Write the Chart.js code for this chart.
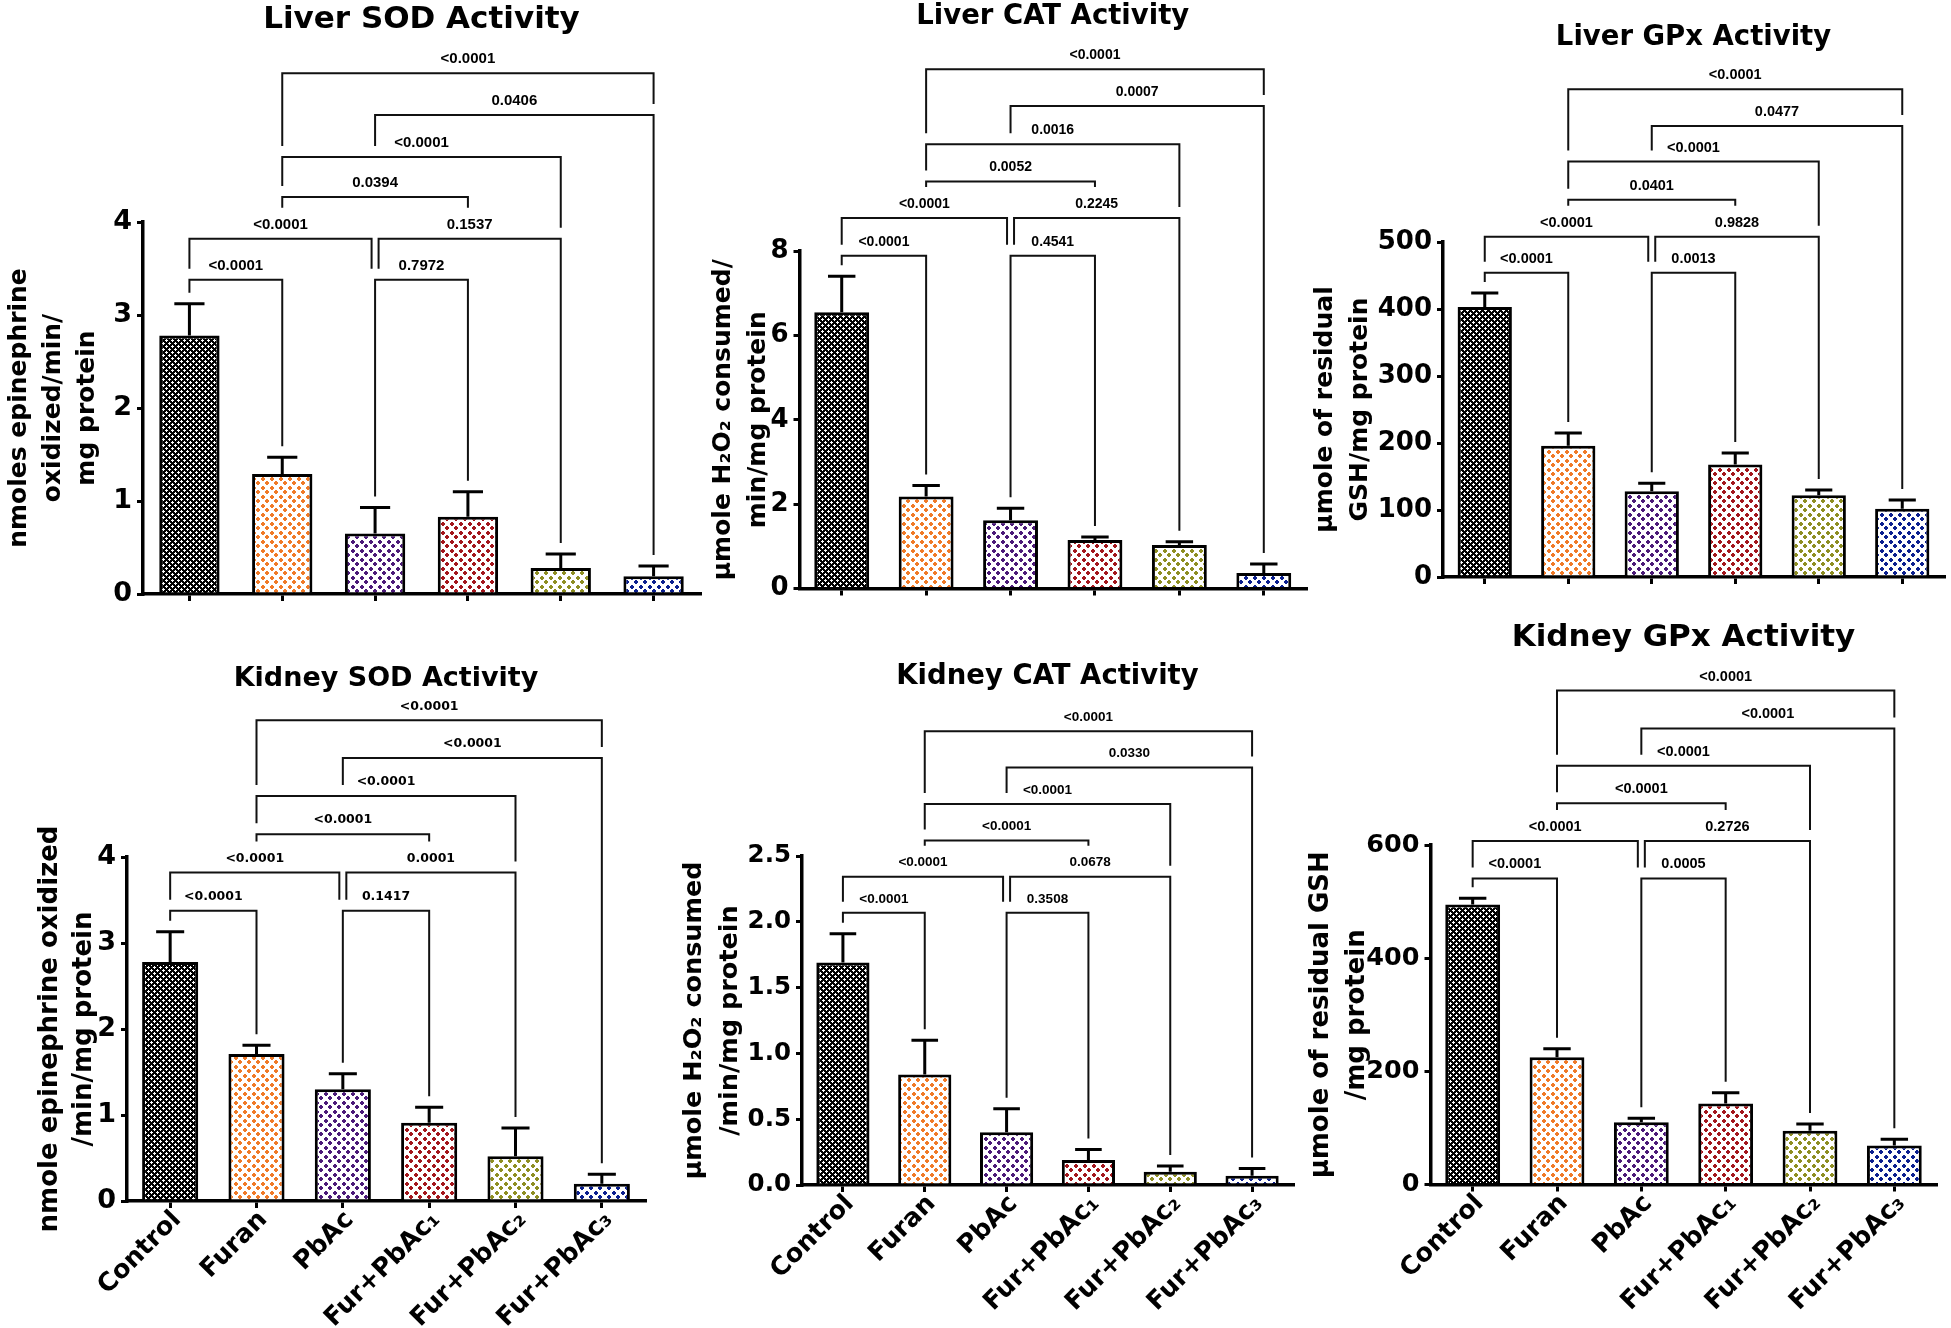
<!DOCTYPE html>
<html lang="en">
<head>
<meta charset="UTF-8">
<title>Liver and kidney antioxidant enzyme activity</title>
<script src="https://cdn.jsdelivr.net/npm/chart.js"></script>
<style>
  body { margin: 0; background: #fff; width: 1951px; height: 1328px; position: relative; overflow: hidden; }
  canvas { position: absolute; }
</style>
</head>
<body>
<canvas id="liverSod"></canvas>
<canvas id="liverCat"></canvas>
<canvas id="liverGpx"></canvas>
<canvas id="kidneySod"></canvas>
<canvas id="kidneyCat"></canvas>
<canvas id="kidneyGpx"></canvas>
<script>
const groups = ['Control', 'Furan', 'PbAc', 'Fur+PbAc₁', 'Fur+PbAc₂', 'Fur+PbAc₃'];
// group pairs compared in every panel, lowest bracket first
const comparisons = [[0, 1], [2, 3], [0, 2], [2, 4], [1, 3], [1, 4], [2, 5], [1, 5]];

const liverSodMean = [2.78, 1.29, 0.65, 0.83, 0.28, 0.19];
const liverSodSem = [0.34, 0.18, 0.28, 0.27, 0.15, 0.11];
const liverSodP = ['<0.0001', '0.7972', '<0.0001', '0.1537', '0.0394', '<0.0001', '0.0406', '<0.0001'];
const liverSodBracket = [3.38, 3.38, 3.82, 3.82, 4.27, 4.70, 5.15, 5.60];

const liverCatMean = [6.55, 2.18, 1.62, 1.15, 1.03, 0.37];
const liverCatSem = [0.85, 0.26, 0.28, 0.07, 0.08, 0.21];
const liverCatP = ['<0.0001', '0.4541', '<0.0001', '0.2245', '0.0052', '0.0016', '0.0007', '<0.0001'];
const liverCatBracket = [7.89, 7.89, 8.78, 8.78, 9.65, 10.53, 11.44, 12.31];

const liverGpxMean = [403, 196, 128, 168, 122, 102];
const liverGpxSem = [21, 19, 12, 17, 8, 13];
const liverGpxP = ['<0.0001', '0.0013', '<0.0001', '0.9828', '0.0401', '<0.0001', '0.0477', '<0.0001'];
const liverGpxBracket = [454, 454, 508, 508, 563, 620, 673, 728];

const kidneySodMean = [2.78, 1.71, 1.30, 0.91, 0.52, 0.20];
const kidneySodSem = [0.35, 0.10, 0.18, 0.18, 0.33, 0.11];
const kidneySodP = ['<0.0001', '0.1417', '<0.0001', '0.0001', '<0.0001', '<0.0001', '<0.0001', '<0.0001'];
const kidneySodBracket = [3.375, 3.375, 3.82, 3.82, 4.265, 4.71, 5.15, 5.59];

const kidneyCatMean = [1.69, 0.84, 0.40, 0.19, 0.10, 0.07];
const kidneyCatSem = [0.22, 0.26, 0.18, 0.08, 0.045, 0.055];
const kidneyCatP = ['<0.0001', '0.3508', '<0.0001', '0.0678', '<0.0001', '<0.0001', '0.0330', '<0.0001'];
const kidneyCatBracket = [2.068, 2.068, 2.343, 2.343, 2.617, 2.895, 3.173, 3.447];

const kidneyGpxMean = [495, 225, 110, 143, 95, 69];
const kidneyGpxSem = [11, 15, 7, 19, 12, 11];
const kidneyGpxP = ['<0.0001', '0.0005', '<0.0001', '0.2726', '<0.0001', '<0.0001', '<0.0001', '<0.0001'];
const kidneyGpxBracket = [541, 541, 607, 607, 674, 740, 806, 873];

Chart.defaults.font.family = "'DejaVu Sans', sans-serif";
Chart.defaults.font.weight = 'bold';
Chart.defaults.color = '#000';

// dotted fills like the prism patterns
function pattern(bg, dot, size, big) {
  const c = document.createElement('canvas');
  c.width = c.height = size;
  const g = c.getContext('2d');
  g.fillStyle = bg;
  g.fillRect(0, 0, size, size);
  g.fillStyle = dot;
  const h = Math.floor(size / 2);
  [[1, 1], [1 + h, 1 + h]].forEach(([px, py]) => {
    if (big) {
      g.fillRect(px - 1, py, 4, 2);
      g.fillRect(px, py - 1, 2, 4);
    } else {
      g.fillRect(px - 1, py, 3, 1);
      g.fillRect(px, py - 1, 1, 3);
    }
  });
  return g.createPattern(c, 'repeat');
}
const fills = [
  pattern('#000', '#fff', 6, false),
  pattern('#fff', '#f07a28', 9, true),
  pattern('#fff', '#4b1a78', 9, true),
  pattern('#fff', '#a3161c', 9, true),
  pattern('#fff', '#8e8e22', 9, true),
  pattern('#fff', '#0b1f8f', 9, true)
];

// error bars (upper SEM) and significance brackets
function annotator(p) {
  return {
    id: 'annotate',
    afterDatasetsDraw(chart) {
      const ctx = chart.ctx;
      const xs = chart.scales.x, ys = chart.scales.y;
      const bars = chart.getDatasetMeta(0).data;
      const errPx = p.mean.map((m, i) => ys.getPixelForValue(m + p.sem[i]));
      ctx.save();
      ctx.strokeStyle = '#000';
      ctx.lineWidth = 3;
      bars.forEach((bar, i) => {
        const top = ys.getPixelForValue(p.mean[i]);
        const half = bar.width / 4;
        ctx.beginPath();
        ctx.moveTo(bar.x, top);
        ctx.lineTo(bar.x, errPx[i]);
        ctx.moveTo(bar.x - half, errPx[i]);
        ctx.lineTo(bar.x + half, errPx[i]);
        ctx.stroke();
      });

      const lines = p.brackets.map(v => ys.getPixelForValue(v));
      ctx.lineWidth = 2;
      ctx.strokeStyle = '#111';
      ctx.fillStyle = '#000';
      ctx.font = p.pFont;
      ctx.textAlign = 'center';
      ctx.textBaseline = 'middle';
      comparisons.forEach(([a, b], k) => {
        const yl = lines[k];
        const legEnd = cat => {
          let top = errPx[cat];
          comparisons.forEach(([c, d], m) => {
            if (lines[m] <= yl + 1) return;
            if (c <= cat && cat <= d) top = Math.min(top, lines[m]);
            if ((c + d) / 2 === cat) top = Math.min(top, lines[m] - 20);
          });
          return top - 11;
        };
        let xa = xs.getPixelForValue(a), xb = xs.getPixelForValue(b);
        comparisons.forEach(([c, d], m) => {
          if (m === k || Math.abs(lines[m] - yl) > 1) return;
          if (d === a) xa += 3.5;
          if (c === b) xb -= 3.5;
        });
        ctx.beginPath();
        ctx.moveTo(xa, legEnd(a));
        ctx.lineTo(xa, yl);
        ctx.lineTo(xb, yl);
        ctx.lineTo(xb, legEnd(b));
        ctx.stroke();
        ctx.fillText(p.pValues[k], (xa + xb) / 2, yl - 14);
      });
      ctx.restore();
    }
  };
}

function drawPanel(p) {
  const canvas = document.getElementById(p.id);
  canvas.width = p.w;
  canvas.height = p.h;
  canvas.style.left = p.left + 'px';
  canvas.style.top = p.top + 'px';
  new Chart(canvas, {
    type: 'bar',
    data: {
      labels: groups,
      datasets: [{
        data: p.mean,
        backgroundColor: fills,
        borderColor: '#000',
        borderWidth: 3,
        barPercentage: 0.65,
        categoryPercentage: 1
      }]
    },
    options: {
      responsive: false,
      animation: false,
      devicePixelRatio: 1,
      layout: { padding: { left: 0, right: p.padRight, top: 0, bottom: 0 } },
      plugins: {
        legend: { display: false },
        tooltip: { enabled: false },
        title: {
          display: true,
          text: p.title,
          fullSize: false,
          color: '#000',
          font: { size: p.titleSize, weight: 'bold', lineHeight: 1.2 },
          padding: { top: p.titleTop, bottom: p.titleBottom }
        }
      },
      scales: {
        x: {
          grid: { display: true, drawOnChartArea: false, offset: false, drawTicks: true, tickLength: 7, lineWidth: 3, tickWidth: 3, tickColor: '#000' },
          border: { display: true, color: '#000', width: 3.5 },
          ticks: { display: p.showLabels, autoSkip: false, minRotation: 45, maxRotation: 45, padding: -3, labelOffset: 7, font: { size: 25.5, weight: 'bold' } },
          afterFit: s => { s.height = p.xHeight; }
        },
        y: {
          min: 0,
          max: p.max,
          ticks: { stepSize: p.step, padding: 5, font: { size: p.tickSize, weight: 'bold' }, callback: p.fmt },
          grid: { display: true, drawOnChartArea: false, drawTicks: true, tickLength: 6, lineWidth: 3, tickWidth: 3, tickColor: '#000' },
          border: { display: true, color: '#000', width: 3.5 },
          title: {
            display: true,
            text: p.yTitle,
            color: '#000',
            font: { size: p.yTitleSize, weight: 'bold', lineHeight: p.yTitleLine },
            padding: { top: p.yTitlePad, bottom: 0 }
          },
          afterFit: s => { s.width = p.yWidth; }
        }
      }
    },
    plugins: [annotator(p)]
  });
}

const arial = "'Liberation Sans', Arial, sans-serif";

drawPanel({
  id: 'liverSod', left: 0, top: 0, w: 715, h: 619, yWidth: 143, padRight: 15, xHeight: 25,
  title: 'Liver SOD Activity', titleSize: 31, titleTop: 1.4, titleBottom: 183.4,
  mean: liverSodMean, sem: liverSodSem, pValues: liverSodP, brackets: liverSodBracket,
  max: 4, step: 1, tickSize: 27, fmt: v => v, showLabels: false,
  yTitle: ['nmoles epinephrine', 'oxidized/min/', 'mg protein'], yTitleSize: 25, yTitleLine: 1.36, yTitlePad: 2.5,
  pFont: 'bold 15px ' + arial
});
drawPanel({
  id: 'liverCat', left: 695, top: 0, w: 620, h: 615, yWidth: 104.5, padRight: 9, xHeight: 26.5,
  title: 'Liver CAT Activity', titleSize: 27.5, titleTop: 0, titleBottom: 218,
  mean: liverCatMean, sem: liverCatSem, pValues: liverCatP, brackets: liverCatBracket,
  max: 8, step: 2, tickSize: 26, fmt: v => v, showLabels: false,
  yTitle: ['µmole H₂O₂ consumed/', 'min/mg protein'], yTitleSize: 25, yTitleLine: 1.4, yTitlePad: 10.5,
  pFont: 'bold 14px ' + arial
});
drawPanel({
  id: 'liverGpx', left: 1295, top: 0, w: 656, h: 615, yWidth: 148, padRight: 7, xHeight: 38,
  title: 'Liver GPx Activity', titleSize: 27.5, titleTop: 21.5, titleBottom: 187.5,
  mean: liverGpxMean, sem: liverGpxSem, pValues: liverGpxP, brackets: liverGpxBracket,
  max: 500, step: 100, tickSize: 26, fmt: v => v, showLabels: false,
  yTitle: ['µmole of residual', 'GSH/mg protein'], yTitleSize: 25, yTitleLine: 1.4, yTitlePad: 12.5,
  pFont: 'bold 14.5px ' + arial
});
drawPanel({
  id: 'kidneySod', left: 0, top: 615, w: 715, h: 713, yWidth: 127, padRight: 70, xHeight: 127,
  title: 'Kidney SOD Activity', titleSize: 27, titleTop: 47.8, titleBottom: 161.8,
  mean: kidneySodMean, sem: kidneySodSem, pValues: kidneySodP, brackets: kidneySodBracket,
  max: 4, step: 1, tickSize: 27, fmt: v => v, showLabels: true,
  yTitle: ['nmole epinephrine oxidized', '/min/mg protein'], yTitleSize: 26, yTitleLine: 1.33, yTitlePad: 32.7,
  pFont: "bold 12.5px 'DejaVu Sans', sans-serif"
});
drawPanel({
  id: 'kidneyCat', left: 660, top: 615, w: 655, h: 713, yWidth: 142, padRight: 22, xHeight: 143,
  title: 'Kidney CAT Activity', titleSize: 27.5, titleTop: 45.5, titleBottom: 162.5,
  mean: kidneyCatMean, sem: kidneyCatSem, pValues: kidneyCatP, brackets: kidneyCatBracket,
  max: 2.5, step: 0.5, tickSize: 24.5, fmt: v => v.toFixed(1), showLabels: true,
  yTitle: ['µmole H₂O₂ consumed', '/min/mg protein'], yTitleSize: 25.5, yTitleLine: 1.41, yTitlePad: 16,
  pFont: 'bold 13.5px ' + arial
});
drawPanel({
  id: 'kidneyGpx', left: 1290, top: 615, w: 661, h: 713, yWidth: 140.5, padRight: 14.5, xHeight: 143.5,
  title: 'Kidney GPx Activity', titleSize: 31, titleTop: 4.4, titleBottom: 188.4,
  mean: kidneyGpxMean, sem: kidneyGpxSem, pValues: kidneyGpxP, brackets: kidneyGpxBracket,
  max: 600, step: 200, tickSize: 25.5, fmt: v => v, showLabels: true,
  yTitle: ['µmole of residual GSH', '/mg protein'], yTitleSize: 26, yTitleLine: 1.385, yTitlePad: 13,
  pFont: 'bold 14.5px ' + arial
});
</script>
</body>
</html>
